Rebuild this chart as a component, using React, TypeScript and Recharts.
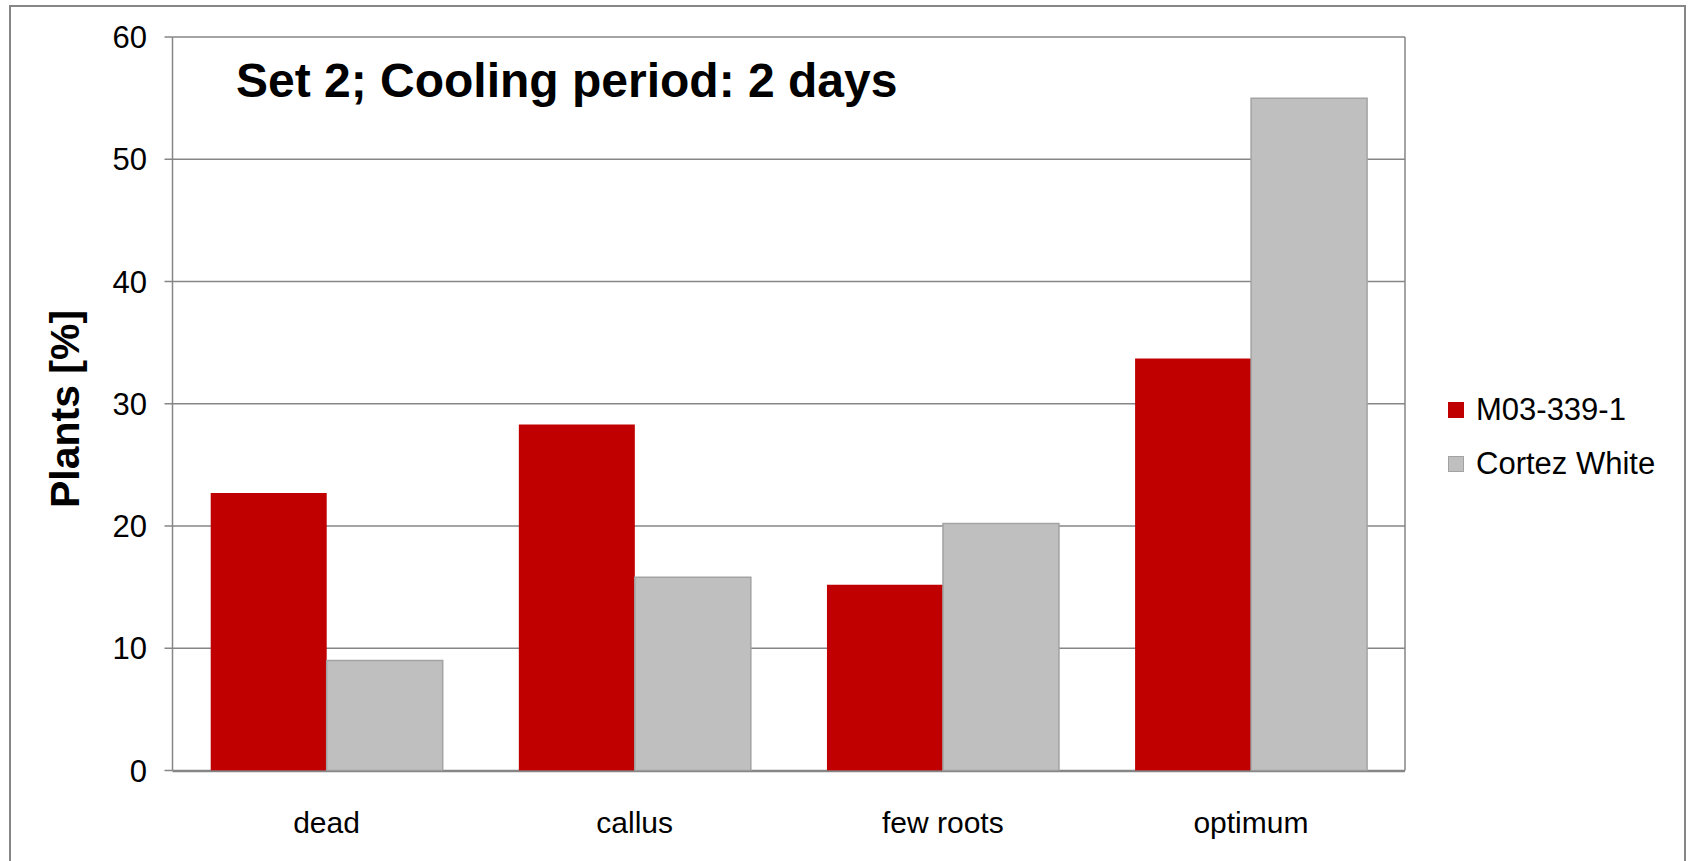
import React from 'react';
import { BarChart, Bar, XAxis, YAxis, CartesianGrid } from 'recharts';

const categories = ['dead', 'callus', 'few roots', 'optimum'];
const m03Values = [22.7, 28.3, 15.2, 33.7];
const cortezValues = [9.0, 15.8, 20.2, 55.0];
const seriesNames = ['M03-339-1', 'Cortez White'];
const yTicks = [0, 10, 20, 30, 40, 50, 60];
const boundaryTicks = [0, 1, 2, 3, 4];
const titleText = 'Set 2; Cooling period: 2 days';
const yTitle = 'Plants [%]';

const data = categories.map((c, i) => ({ category: c, m03: m03Values[i], cortez: cortezValues[i] }));

const FONT = '"Liberation Sans", Arial, Helvetica, sans-serif';
const AXIS = '#868686';
const RED = '#C00000';
const GRAY = '#BFBFBF';
const GRAY_EDGE = '#A3A3A3';
const seriesColors = [RED, GRAY];
const seriesEdges = ['none', `1.5px solid ${GRAY_EDGE}`];

export default function App() {
  return (
    <div style={{ position: 'absolute', left: 0, top: 0, width: 1689, height: 861, background: '#fff' }}>
      <BarChart
        width={1689}
        height={861}
        data={data}
        margin={{ top: 37, right: 283, bottom: 88.5, left: 0 }}
        barCategoryGap="12.4%"
        barGap={0}
      >
        <CartesianGrid horizontal vertical={false} stroke={AXIS} strokeWidth={1.5} />
        <XAxis
          xAxisId="sep"
          type="number"
          domain={[0, 4]}
          allowDataOverflow
          ticks={boundaryTicks}
          tick={false}
          tickSize={9}
          tickLine={{ stroke: AXIS, strokeWidth: 1.5 }}
          axisLine={{ stroke: AXIS, strokeWidth: 1.5 }}
          height={1}
        />
        <XAxis
          dataKey="category"
          height={1}
          tickLine={false}
          axisLine={false}
          tickSize={0}
          tickMargin={41}
          interval={0}
          tick={{ fill: '#000', fontSize: 30, fontFamily: FONT }}
        />
        <YAxis
          width={172.5}
          domain={[0, 60]}
          ticks={yTicks}
          interval={0}
          tickSize={8}
          tickMargin={17.5}
          tickLine={{ stroke: AXIS, strokeWidth: 1.5 }}
          axisLine={{ stroke: AXIS, strokeWidth: 1.5 }}
          tick={{ fill: '#000', fontSize: 31, fontFamily: FONT }}
        />
        <YAxis
          yAxisId="right"
          orientation="right"
          width={1}
          tick={false}
          tickLine={false}
          axisLine={{ stroke: AXIS, strokeWidth: 1.5 }}
        />
        <Bar dataKey="m03" name={seriesNames[0]} fill={RED} isAnimationActive={false} />
        <Bar
          dataKey="cortez"
          name={seriesNames[1]}
          fill={GRAY}
          stroke={GRAY_EDGE}
          strokeWidth={1.5}
          isAnimationActive={false}
        />
      </BarChart>
      <svg
        width={1689}
        height={861}
        style={{ position: 'absolute', left: 0, top: 0, pointerEvents: 'none' }}
      >
        <rect x={10} y={6} width={1675} height={870} fill="none" stroke={AXIS} strokeWidth={2} />
        <text x={236} y={97} fontFamily={FONT} fontSize={48} fontWeight="bold" fill="#000">
          {titleText}
        </text>
        <text
          x={0}
          y={0}
          transform="translate(79,409) rotate(-90)"
          textAnchor="middle"
          fontFamily={FONT}
          fontSize={41}
          fontWeight="bold"
          fill="#000"
        >
          {yTitle}
        </text>
      </svg>
      <div
        style={{
          position: 'absolute',
          left: 1448,
          top: 383,
          fontFamily: FONT,
          fontSize: 31,
          color: '#000',
          whiteSpace: 'nowrap',
        }}
      >
        {seriesNames.map((name, i) => (
          <div key={name} style={{ display: 'flex', alignItems: 'center', height: 54 }}>
            <span
              style={{
                display: 'inline-block',
                width: 16,
                height: 16,
                background: seriesColors[i],
                border: seriesEdges[i],
                boxSizing: 'border-box',
                marginRight: 12,
              }}
            />
            <span>{name}</span>
          </div>
        ))}
      </div>
    </div>
  );
}
